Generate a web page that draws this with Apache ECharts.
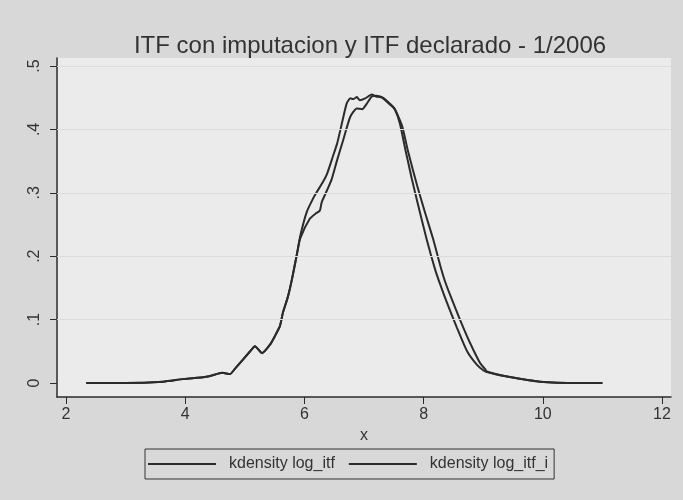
<!DOCTYPE html>
<html>
<head>
<meta charset="utf-8">
<script src="https://cdn.jsdelivr.net/npm/echarts@6/dist/echarts.min.js"></script>
<style>
  html, body { margin: 0; padding: 0; background: #d8d8d8; }
  #chart { width: 683px; height: 500px; }
</style>
</head>
<body>
<div id="chart"></div>
<script>
// kdensity log_itf (curva desplazada a la izquierda)
var xItf = [2.34, 3.00, 3.63, 3.96, 4.20, 4.42, 4.62, 4.75, 4.84, 5.09, 5.17, 5.29, 5.42, 5.50, 5.59,
	5.64, 5.72, 5.79, 5.88, 5.93, 6.04, 6.14, 6.20, 6.31, 6.38, 6.48, 6.55, 6.63, 6.71, 6.77,
	6.82, 6.88, 6.93, 7.02, 7.13, 7.20, 7.27, 7.32, 7.44, 7.52, 7.60, 7.69, 7.80, 7.91, 8.05,
	8.19, 8.28, 8.39, 8.56, 8.73, 8.90, 9.00, 9.06, 9.40, 9.95, 10.62, 11.00];
var yItf = [0.000, 0.000, 0.002, 0.006, 0.008, 0.011, 0.016, 0.014, 0.023, 0.050, 0.058, 0.047, 0.060, 0.073, 0.090,
	0.111, 0.135, 0.163, 0.206, 0.232, 0.270, 0.290, 0.300, 0.317, 0.330, 0.358, 0.378, 0.410, 0.441, 0.449,
	0.448, 0.451, 0.446, 0.449, 0.455, 0.452, 0.451, 0.449, 0.439, 0.431, 0.410, 0.370, 0.323, 0.280, 0.227,
	0.180, 0.155, 0.127, 0.087, 0.050, 0.028, 0.020, 0.017, 0.010, 0.002, 0.000, 0.000];

// kdensity log_itf_i
var xItfI = [2.34, 3.00, 3.63, 3.96, 4.20, 4.42, 4.62, 4.75, 4.84, 5.09, 5.17, 5.29, 5.42, 5.50, 5.59,
	5.64, 5.72, 5.79, 5.88, 5.93, 6.09, 6.20, 6.26, 6.29, 6.38, 6.46, 6.55, 6.65, 6.77, 6.88,
	6.97, 7.05, 7.13, 7.20, 7.27, 7.32, 7.44, 7.52, 7.60, 7.65, 7.74, 7.89, 8.02, 8.16, 8.28,
	8.36, 8.44, 8.61, 8.78, 8.95, 9.03, 9.06, 9.40, 9.95, 10.62, 11.00];
var yItfI = [0.000, 0.000, 0.002, 0.006, 0.008, 0.011, 0.016, 0.014, 0.023, 0.050, 0.058, 0.047, 0.060, 0.073, 0.090,
	0.111, 0.135, 0.163, 0.206, 0.228, 0.259, 0.268, 0.272, 0.285, 0.304, 0.322, 0.352, 0.383, 0.420, 0.433,
	0.432, 0.441, 0.452, 0.453, 0.452, 0.450, 0.440, 0.432, 0.415, 0.402, 0.365, 0.312, 0.270, 0.227, 0.185,
	0.160, 0.140, 0.100, 0.063, 0.031, 0.022, 0.018, 0.010, 0.002, 0.000, 0.000];

var xTicks = [2, 4, 6, 8, 10, 12];
var yTicks = [0, 0.1, 0.2, 0.3, 0.4, 0.5];
var yGrid = [0.1, 0.2, 0.3, 0.4, 0.5];
var seriesNames = ['kdensity log_itf', 'kdensity log_itf_i'];

function pairs(xs, ys) {
	return xs.map(function(x, i) { return [x, ys[i]]; });
}

var chart = echarts.init(document.getElementById('chart'));
var font = 'Liberation Sans, Arial, sans-serif';
var ink = '#2b2b2b';

var option = {
	animation: false,
	backgroundColor: '#d8d8d8',
	title: {
		text: 'ITF con imputacion y ITF declarado - 1/2006',
		left: 365,
		top: 29,
		textAlign: 'center',
		textStyle: { fontFamily: font, fontWeight: 'normal', fontSize: 24, color: '#333' }
	},
	grid: {
		left: 57, right: 12, top: 58, bottom: 103,
		show: true, backgroundColor: '#ebebeb', borderWidth: 0
	},
	legend: {
		left: 145, top: 449,
		padding: [7, 6, 7, 3],
		itemGap: 14,
		itemWidth: 68, itemHeight: 2,
		icon: 'rect',
		borderColor: '#333', borderWidth: 1,
		textStyle: { fontFamily: font, fontSize: 16, color: '#333', padding: [0, 0, 0, 8] },
		data: seriesNames
	},
	xAxis: {
		type: 'value',
		min: 1.849, max: 12.151,
		name: 'x', nameLocation: 'middle', nameGap: 28,
		nameTextStyle: { fontFamily: font, fontSize: 16, color: '#333' },
		axisLine: { onZero: false, lineStyle: { color: ink, width: 1.5 } },
		axisTick: { customValues: xTicks, length: 7, lineStyle: { color: ink } },
		axisLabel: { customValues: xTicks, margin: 10, fontFamily: font, fontSize: 16, color: '#333' },
		splitLine: { show: false }
	},
	yAxis: {
		type: 'value',
		min: -0.0222, max: 0.5127,
		axisLine: { show: true, onZero: false, lineStyle: { color: ink, width: 1.5 } },
		axisTick: { show: true, customValues: yTicks, length: 7, lineStyle: { color: ink } },
		axisLabel: {
			customValues: yTicks, rotate: 90, margin: 14,
			fontFamily: font, fontSize: 16, color: '#333',
			formatter: function(v) { return v === 0 ? '0' : String(v).replace(/^0/, ''); }
		},
		splitLine: { show: false }
	},
	series: [
		{
			name: seriesNames[0],
			type: 'line',
			showSymbol: false,
			smooth: 0.2,
			data: pairs(xItf, yItf),
			lineStyle: { color: ink, width: 2 },
			itemStyle: { color: ink },
			markLine: {
				silent: true, symbol: 'none', label: { show: false },
				lineStyle: { color: '#dcdcdc', width: 1, type: 'solid' },
				data: yGrid.map(function(v) { return { yAxis: v }; })
			},
			z: 3
		},
		{
			name: seriesNames[1],
			type: 'line',
			showSymbol: false,
			smooth: 0.2,
			data: pairs(xItfI, yItfI),
			lineStyle: { color: ink, width: 2 },
			itemStyle: { color: ink },
			z: 3
		}
	]
};

chart.setOption(option);
</script>
</body>
</html>
